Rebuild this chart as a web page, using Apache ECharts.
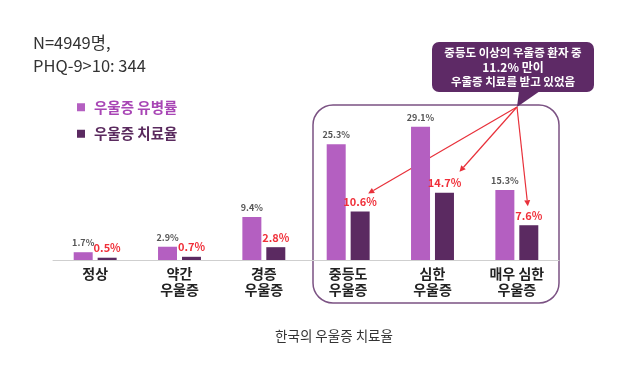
<!DOCTYPE html>
<html>
<head>
<meta charset="utf-8">
<script src="https://cdn.jsdelivr.net/npm/echarts@6/dist/echarts.min.js"></script>
<style>
  html, body { margin: 0; padding: 0; background: #fff; }
  #main { width: 640px; height: 377px; }
</style>
</head>
<body>
<div id="main"></div>
<script>
const categories = ['정상', '약간\n우울증', '경증\n우울증', '중등도\n우울증', '심한\n우울증', '매우 심한\n우울증'];
const prevalence = [1.7, 2.9, 9.4, 25.3, 29.1, 15.3];
const treatment = [0.5, 0.7, 2.8, 10.6, 14.7, 7.6];
const seriesNames = ['우울증 유병률', '우울증 치료율'];
const calloutLines = ['중등도 이상의 우울증 환자 중', '11.2% 만이', '우울증 치료를 받고 있었음'];
const infoLines = ['N=4949명,', 'PHQ-9>10: 344'];
const caption = '한국의 우울증 치료율';

const font = '"Noto Sans CJK KR", "Noto Sans", sans-serif';
const chart = echarts.init(document.getElementById('main'));

const option = {
  animation: false,
  textStyle: { fontFamily: font },
  grid: { left: 53, right: 81, top: 77, bottom: 117 },
  legend: {
    orient: 'vertical',
    left: 72,
    top: 95,
    itemWidth: 8,
    itemHeight: 8,
    itemGap: 12,
    icon: 'rect',
    data: [
      { name: seriesNames[0], textStyle: { color: '#a845b5' } },
      { name: seriesNames[1], textStyle: { color: '#5a2a5e' } },
    ],
    textStyle: { fontSize: 14.5, fontWeight: 'bold', fontFamily: font, padding: [0, 0, 0, 4] },
  },
  xAxis: {
    type: 'category',
    data: categories,
    axisLine: { lineStyle: { color: '#cfcfcf' } },
    axisTick: { show: false },
    axisLabel: {
      color: '#222',
      fontSize: 14,
      fontWeight: 'bold',
      lineHeight: 16,
      margin: 6,
      interval: 0,
    },
  },
  yAxis: { type: 'value', min: 0, max: 40, show: false, splitLine: { show: false } },
  series: [
    {
      name: seriesNames[0],
      type: 'bar',
      data: prevalence,
      barWidth: 19,
      barGap: '26%',
      itemStyle: { color: '#b45fc1' },
      label: {
        show: true,
        position: 'top',
        distance: 5,
        formatter: '{c}%',
        color: '#555',
        fontSize: 9,
        fontWeight: 'bold',
      },
    },
    {
      name: seriesNames[1],
      type: 'bar',
      data: treatment,
      barWidth: 19,
      itemStyle: { color: '#5b2a61' },
      label: {
        show: true,
        position: 'top',
        distance: 4,
        formatter: '{c}%',
        color: '#f0303a',
        fontSize: 11,
        fontWeight: 'bold',
      },
    },
  ],
};
chart.setOption(option);

// annotations placed from the chart's own scales
function arrow(from, to, color) {
  const ang = Math.atan2(to[1] - from[1], to[0] - from[0]);
  const len = 6, wid = 3;
  const bx = to[0] - len * Math.cos(ang), by = to[1] - len * Math.sin(ang);
  const px = -Math.sin(ang) * wid, py = Math.cos(ang) * wid;
  return [
    { type: 'line', shape: { x1: from[0], y1: from[1], x2: bx, y2: by }, style: { stroke: color, lineWidth: 1.2 } },
    { type: 'polygon', shape: { points: [to, [bx + px, by + py], [bx - px, by - py]] }, style: { fill: color } },
  ];
}

const gfx = [];
infoLines.forEach((t, i) => {
  gfx.push({ type: 'text', left: 33, top: 34 + i * 23, style: { text: t, fontSize: 16.5, fill: '#333', fontFamily: font } });
});

// rounded frame round the last three groups
const firstBand = chart.convertToPixel({ xAxisIndex: 0 }, 3);
const lastBand = chart.convertToPixel({ xAxisIndex: 0 }, 5);
const halfBand = (lastBand - firstBand) / 4;
gfx.push({
  type: 'rect',
  shape: { x: firstBand - halfBand + 7, y: 105, width: lastBand - firstBand + 2 * halfBand - 7, height: 198, r: 20 },
  style: { fill: 'none', stroke: '#7b5283', lineWidth: 1.5 },
});

// callout bubble
const tip = [517, 107];
gfx.push({ type: 'rect', shape: { x: 432, y: 42, width: 162, height: 50, r: 7 }, style: { fill: '#5e2a66' } });
gfx.push({ type: 'polygon', shape: { points: [[519, 91], [540, 91], tip] }, style: { fill: '#5e2a66' } });
calloutLines.forEach((t, i) => {
  gfx.push({
    type: 'text', x: 513, y: 53 + i * 14.5,
    style: { text: t, fontSize: i === 1 ? 12 : 11.5, fontWeight: 'bold', fill: '#fff', align: 'center', verticalAlign: 'middle', fontFamily: font },
  });
});

// arrows to the treatment labels of the last three groups
const arrowOffsets = [[8, -18], [15, -21], [-1, -19]];
[3, 4, 5].forEach((idx, k) => {
  const p = chart.convertToPixel({ seriesIndex: 1 }, [idx, treatment[idx]]);
  const barCx = p[0] + 12;
  gfx.push(...arrow(tip, [barCx + arrowOffsets[k][0], p[1] + arrowOffsets[k][1]], '#e8303a'));
});

gfx.push({
  type: 'text', x: 334, y: 336,
  style: { text: caption, fontSize: 13.5, fill: '#333', align: 'center', verticalAlign: 'middle', fontFamily: font },
});

chart.setOption({ graphic: gfx });
</script>
</body>
</html>
